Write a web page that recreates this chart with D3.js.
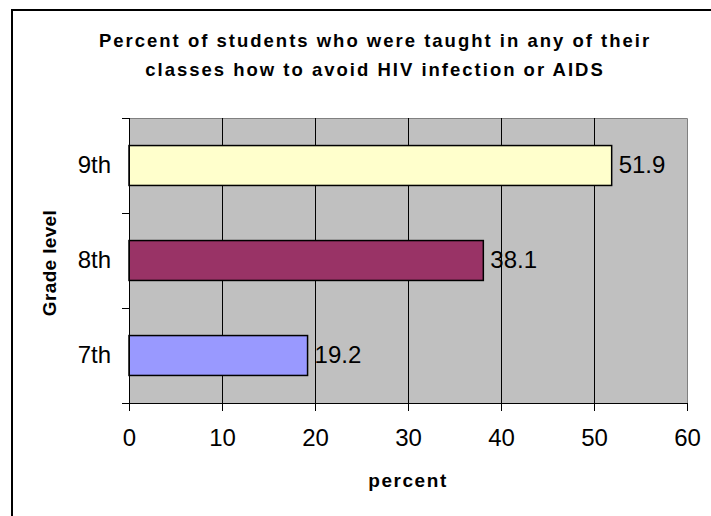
<!DOCTYPE html>
<html>
<head>
<meta charset="utf-8">
<script src="https://cdn.jsdelivr.net/npm/d3@7"></script>
<style>
  html, body { margin: 0; padding: 0; background: #fff; }
  svg { display: block; }
  text { font-family: "Liberation Sans", Arial, sans-serif; fill: #000; }
</style>
</head>
<body>
<svg id="chart" width="711" height="516"></svg>
<script>
// ---- data ----
const categories = ["9th", "8th", "7th"];
const values = [51.9, 38.1, 19.2];
const barColors = ["#FFFFCC", "#993366", "#9999FF"];
const xTicks = [0, 10, 20, 30, 40, 50, 60];
const titleLines = ["Percent of students who were taught in any of their",
                    "classes how to avoid HIV infection or AIDS"];
const xTitle = "percent";
const yTitle = "Grade level";

// ---- layout ----
const plot = { left: 129, right: 687, top: 118, bottom: 403 };

const svg = d3.select("#chart");

// chart outer border (only left and top visible)
svg.append("rect")
  .attr("x", 12).attr("y", 10)
  .attr("width", 760).attr("height", 560)
  .attr("fill", "#fff").attr("stroke", "#000").attr("stroke-width", 2);

function fitText(sel, target) {
  const node = sel.node();
  const n = sel.text().length;
  const w = node.getComputedTextLength();
  const ls = (target - w) / Math.max(1, n - 1);
  sel.attr("letter-spacing", ls.toFixed(2) + "px");
}

// title
const t1 = svg.append("text").attr("x", 375).attr("y", 47)
  .attr("text-anchor", "middle").attr("font-size", 18.5).attr("font-weight", "bold")
  .text(titleLines[0]);
fitText(t1, 550);
const t2 = svg.append("text").attr("x", 375).attr("y", 76)
  .attr("text-anchor", "middle").attr("font-size", 18.5).attr("font-weight", "bold")
  .text(titleLines[1]);
t2.attr("letter-spacing", t1.attr("letter-spacing"));

// scales
const x = d3.scaleLinear().domain([0, 60]).range([plot.left, plot.right]);
const y = d3.scaleBand().domain(categories).range([plot.top, plot.bottom]).padding(0);
const barH = y.bandwidth() * 0.42;

// plot area background
svg.append("rect")
  .attr("x", plot.left).attr("y", plot.top)
  .attr("width", plot.right - plot.left).attr("height", plot.bottom - plot.top)
  .attr("fill", "#C0C0C0");

// plot border top/right (gray)
svg.append("path")
  .attr("d", `M${plot.left},${plot.top + 0.5}H${plot.right + 0.5}V${plot.bottom}`)
  .attr("fill", "none").attr("stroke", "#808080").attr("stroke-width", 1);

// gridlines
svg.append("g").selectAll("line")
  .data(xTicks.filter(d => d > 0 && d < 60))
  .join("line")
  .attr("x1", d => Math.round(x(d)) + 0.5).attr("x2", d => Math.round(x(d)) + 0.5)
  .attr("y1", plot.top).attr("y2", plot.bottom)
  .attr("stroke", "#000").attr("stroke-width", 1);

// bars
svg.append("g").selectAll("rect")
  .data(categories.map((c, i) => ({ c, v: values[i], col: barColors[i] })))
  .join("rect")
  .attr("x", x(0))
  .attr("y", d => y(d.c) + (y.bandwidth() - barH) / 2)
  .attr("width", d => x(d.v) - x(0))
  .attr("height", barH)
  .attr("fill", d => d.col)
  .attr("stroke", "#000").attr("stroke-width", 1.5);

// value labels
svg.append("g").selectAll("text")
  .data(categories.map((c, i) => ({ c, v: values[i] })))
  .join("text")
  .attr("x", d => x(d.v) + 7)
  .attr("y", d => y(d.c) + y.bandwidth() / 2 + 7)
  .attr("font-size", 24)
  .text(d => d.v.toFixed(1));

// x axis
const xAxis = d3.axisBottom(x).tickValues(xTicks).tickSize(8).tickPadding(18).tickSizeOuter(0);
const gx = svg.append("g").attr("transform", `translate(0,${plot.bottom})`).call(xAxis);
gx.select(".domain").attr("stroke", "#000").attr("d", `M${plot.left - 7},0.5H${plot.right + 0.5}`);
gx.selectAll(".tick line").attr("stroke", "#000");
gx.selectAll(".tick text").attr("font-size", 24).attr("font-family", "'Liberation Sans', Arial, sans-serif").attr("fill", "#000");

// y axis: line + ticks at band boundaries
const boundaries = categories.map(c => y(c)).concat([plot.bottom]);
svg.append("line")
  .attr("x1", plot.left + 0.5).attr("x2", plot.left + 0.5)
  .attr("y1", plot.top).attr("y2", plot.bottom)
  .attr("stroke", "#000");
svg.append("g").selectAll("line").data(boundaries).join("line")
  .attr("x1", plot.left - 7).attr("x2", plot.left)
  .attr("y1", d => Math.round(d) + 0.5).attr("y2", d => Math.round(d) + 0.5)
  .attr("stroke", "#000");

// category labels
svg.append("g").selectAll("text").data(categories).join("text")
  .attr("x", 111)
  .attr("y", d => y(d) + y.bandwidth() / 2 + 7)
  .attr("text-anchor", "end")
  .attr("font-size", 24)
  .text(d => d);

// axis titles
const xt = svg.append("text").attr("x", 408).attr("y", 487)
  .attr("text-anchor", "middle").attr("font-size", 19).attr("font-weight", "bold")
  .text(xTitle);
fitText(xt, 78);

const yt = svg.append("text")
  .attr("transform", `translate(56,263) rotate(-90)`)
  .attr("text-anchor", "middle").attr("font-size", 19).attr("font-weight", "bold")
  .text(yTitle);
fitText(yt, 106);
</script>
</body>
</html>
